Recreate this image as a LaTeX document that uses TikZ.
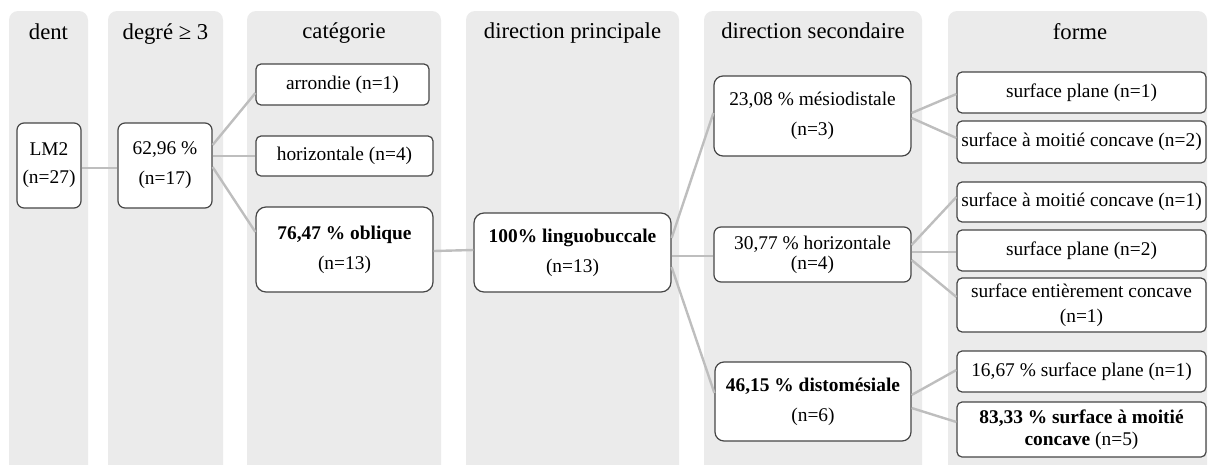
\documentclass[tikz,border=0pt]{standalone}
\usepackage{fontspec}
\setmainfont{Liberation Serif}[Ligatures=TeX]
\newfontfamily\timesfont{Liberation Serif}
\usetikzlibrary{calc}
\definecolor{bandgray}{RGB}{235,235,235}
\definecolor{linegray}{RGB}{190,190,190}
\definecolor{boxline}{RGB}{70,70,70}
\tikzset{
  band/.style={fill=bandgray, draw=none, rounded corners=9pt},
  head/.style={anchor=base, font=\timesfont\fontsize{22.7}{26}\selectfont, inner sep=0pt},
  box/.style={draw=boxline, line width=1.2pt, fill=white, rounded corners=7pt,
    align=center, inner sep=0pt, font=\timesfont\fontsize{19.4}{30}\selectfont},
  conn/.style={draw=linegray, line width=2.4pt},
}
\begin{document}
\begin{tikzpicture}[x=1pt,y=-1pt]
\useasboundingbox (0,0) rectangle (1208,464);
% bands
\path[band] (9,475) -- (9,11) -- (88,11) -- (88,475);
\fill[bandgray] (9,20) rectangle (88,464);
\path[band] (108,475) -- (108,11) -- (223,11) -- (223,475);
\fill[bandgray] (108,20) rectangle (223,464);
\path[band] (247,475) -- (247,11) -- (441,11) -- (441,475);
\fill[bandgray] (247,20) rectangle (441,464);
\path[band] (466,475) -- (466,11) -- (679,11) -- (679,475);
\fill[bandgray] (466,20) rectangle (679,464);
\path[band] (704,475) -- (704,11) -- (922,11) -- (922,475);
\fill[bandgray] (704,20) rectangle (922,464);
\path[band] (948,475) -- (948,11) -- (1207,11) -- (1207,475);
\fill[bandgray] (948,20) rectangle (1207,464);
% headers
\node[head] (h1) at (48.5,39) {dent};
\node[head] (h2) at (165.5,39) {degré ≥ 3};
\node[head] (h3) at (344,38) {catégorie};
\node[head] (h4) at (572.5,38) {direction principale};
\node[head] (h5) at (813,38) {direction secondaire};
\node[head] (h6) at (1080,39) {forme};
% nodes
\node[box, minimum width=64pt, minimum height=85pt, font=\timesfont\fontsize{19.4}{28}\selectfont] (lm2) at (49,165.5) {LM2\\(n=27)};
\node[box, minimum width=94pt, minimum height=85pt] (deg) at (165,165.5) {62,96 \%\\(n=17)};
\node[box, minimum width=173pt, minimum height=41pt, rounded corners=5pt] (arr) at (342.5,84.5) {arrondie (n=1)};
\node[box, minimum width=177pt, minimum height=40pt, rounded corners=5pt] (hor) at (344.5,156) {horizontale (n=4)};
\node[box, minimum width=177pt, minimum height=85pt, rounded corners=10pt] (obl) at (344.5,249.5) {\textbf{76,47 \% oblique}\\(n=13)};
\node[box, minimum width=197pt, minimum height=79pt, rounded corners=10pt] (lin) at (572.5,252.5) {\textbf{100\% linguobuccale}\\(n=13)};
\node[box, minimum width=197pt, minimum height=80pt, rounded corners=9pt] (mes) at (812.5,116) {23,08 \% mésiodistale\\(n=3)};
\node[box, minimum width=197pt, minimum height=55pt, font=\timesfont\fontsize{19.4}{20}\selectfont] (hz2) at (812.5,254.5) {30,77 \% horizontale\\(n=4)};
\node[box, minimum width=196pt, minimum height=79pt, rounded corners=9pt] (dis) at (813,401.5) {\textbf{46,15 \% distomésiale}\\(n=6)};
\node[box, minimum width=249pt, minimum height=41pt, rounded corners=5pt] (f1) at (1081.5,92.5) {surface plane (n=1)};
\node[box, minimum width=249pt, minimum height=42pt, rounded corners=5pt] (f2) at (1081.5,142) {surface à moitié concave (n=2)};
\node[box, minimum width=249pt, minimum height=40pt, rounded corners=5pt] (f3) at (1081.5,202) {surface à moitié concave (n=1)};
\node[box, minimum width=249pt, minimum height=41pt, rounded corners=5pt] (f4) at (1081.5,250.5) {surface plane (n=2)};
\node[box, minimum width=249pt, minimum height=54pt, rounded corners=5pt, font=\timesfont\fontsize{19.4}{25}\selectfont] (f5) at (1081.5,305) {surface entièrement concave\\(n=1)};
\node[box, minimum width=249pt, minimum height=41pt, rounded corners=5pt] (f6) at (1081.5,371.5) {16,67 \% surface plane (n=1)};
\node[box, minimum width=249pt, minimum height=55pt, rounded corners=5pt, font=\timesfont\fontsize{19.4}{22}\selectfont] (f7) at (1081.5,429.5) {\textbf{83,33 \% surface à moitié}\\\textbf{concave} (n=5)};
% connectors
\draw[conn] ($(lm2.east)+(0,2.5)$) -- ($(deg.west)+(0,2.5)$);
\draw[conn] ($(deg.east)+(0,-20.5)$) -- ($(arr.west)+(0,8.5)$);
\draw[conn] ($(deg.east)+(0,-9.5)$) -- ($(hor.west)+(0,0)$);
\draw[conn] ($(deg.east)+(0,1.5)$) -- ($(obl.west)+(0,-17.5)$);
\draw[conn] ($(obl.east)+(0,1.5)$) -- ($(lin.west)+(0,-2.5)$);
\draw[conn] ($(lin.east)+(0,-14.5)$) -- ($(mes.west)+(0,-3)$);
\draw[conn] ($(lin.east)+(0,3.5)$) -- ($(hz2.west)+(0,1.5)$);
\draw[conn] ($(lin.east)+(0,14.5)$) -- ($(dis.west)+(0,-8.5)$);
\draw[conn] ($(mes.east)+(0,-3)$) -- ($(f1.west)+(0,1.5)$);
\draw[conn] ($(mes.east)+(0,2)$) -- ($(f2.west)+(0,-4)$);
\draw[conn] ($(hz2.east)+(0,-9.5)$) -- ($(f3.west)+(0,-5)$);
\draw[conn] ($(hz2.east)+(0,-2.5)$) -- ($(f4.west)+(0,1.5)$);
\draw[conn] ($(hz2.east)+(0,5.5)$) -- ($(f5.west)+(0,-8)$);
\draw[conn] ($(dis.east)+(0,-6.5)$) -- ($(f6.west)+(0,-1.5)$);
\draw[conn] ($(dis.east)+(0,6.5)$) -- ($(f7.west)+(0,-7.5)$);
\end{tikzpicture}
\end{document}
